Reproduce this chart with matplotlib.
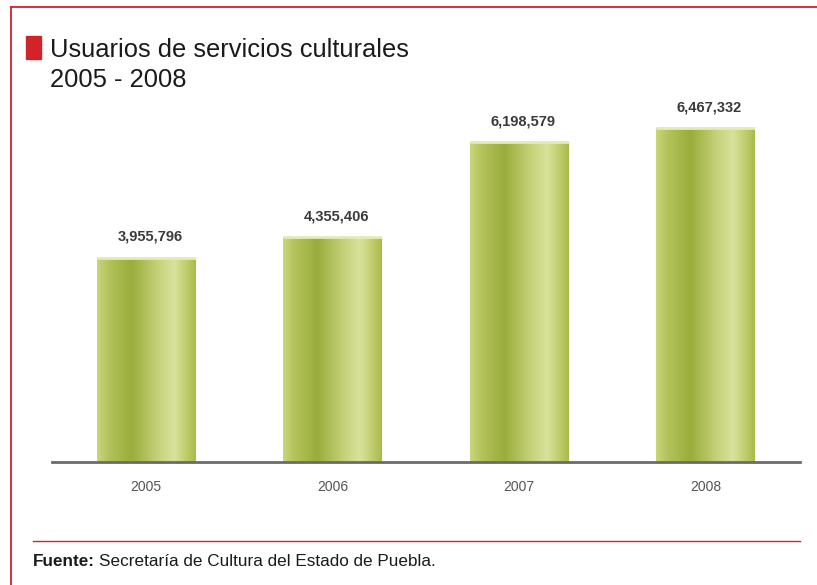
import numpy as np
import matplotlib
matplotlib.use("Agg")
import matplotlib.pyplot as plt
from matplotlib.colors import LinearSegmentedColormap
from matplotlib import font_manager

# data
years = ["2005", "2006", "2007", "2008"]
usuarios = [3955796, 4355406, 6198579, 6467332]

title_1 = "Usuarios de servicios culturales"
title_2 = "2005 - 2008"
fuente_bold = "Fuente:"
fuente_text = "Secretaría de Cultura del Estado de Puebla."

RED = "#d2232a"

names = {f.name for f in font_manager.fontManager.ttflist}
narrow = "Liberation Sans Narrow" if "Liberation Sans Narrow" in names else "Liberation Sans"
plt.rcParams['font.family'] = [narrow, 'DejaVu Sans']

W, H = 817, 585
fig = plt.figure(figsize=(W / 100, H / 100), dpi=100)

# axes placed in pixel coords: left 52, right 800, bottom 462, top 100
ax = fig.add_axes([52 / W, (H - 462) / H, (800 - 52) / W, (462 - 100) / H])
x = np.arange(len(years))

bars = ax.bar(x, usuarios, width=0.53, color="none", edgecolor="none")

# cylinder-ish shading across each bar
cyl = LinearSegmentedColormap.from_list("cyl", [
    (0.0, "#c9d67a"), (0.12, "#b3c25a"), (0.35, "#9aad3c"),
    (0.62, "#c6d27a"), (0.78, "#d8e29c"), (0.92, "#bccb66"), (1.0, "#a9ba4a")])
grad = np.linspace(0, 1, 256).reshape(1, -1)
for b in bars:
    x0, y0 = b.get_x(), b.get_y()
    im = ax.imshow(grad, cmap=cyl, aspect="auto",
                   extent=[x0, x0 + b.get_width(), y0, y0 + b.get_height()],
                   zorder=2)
    im.set_clip_path(b)
    # lighter rim at the top
    ax.plot([x0, x0 + b.get_width()], [b.get_height()] * 2,
            color="#e4ebb4", lw=2, zorder=3, solid_capstyle="butt")

for xi, v in zip(x, usuarios):
    ax.annotate(f"{v:,}", (xi + 0.02, v), xytext=(0, 10), textcoords="offset points",
                ha="center", va="bottom", fontsize=10.5, fontweight="bold",
                color="#3a3a3a")

ax.set_ylim(0, 7.01e6)
ax.set_xlim(-0.505, 3.505)
for s in ["top", "right", "left"]:
    ax.spines[s].set_visible(False)
ax.spines["bottom"].set_color("#6b6b6b")
ax.spines["bottom"].set_linewidth(2)
ax.set_yticks([])
ax.set_xticks(x)
ax.set_xticklabels(years, fontsize=10, color="#555555")
ax.tick_params(axis="x", length=0, pad=13)

# red frame (top and left)
fig.add_artist(plt.Line2D([11 / W, 1], [1 - 7 / H] * 2, color=RED, lw=1.3))
fig.add_artist(plt.Line2D([11 / W] * 2, [0, 1 - 7 / H], color=RED, lw=1.3))
# separator above the source note
fig.add_artist(plt.Line2D([33 / W, 800 / W], [1 - 541 / H] * 2, color=RED, lw=1.0))

# red square and title
fig.add_artist(plt.Rectangle((26 / W, 1 - 59 / H), 15 / W, 23 / H,
                             color=RED, transform=fig.transFigure))
fig.text(50 / W, 1 - 57 / H, title_1, fontsize=18.4, color="#1a1a1a", va="baseline")
fig.text(50 / W, 1 - 87 / H, title_2, fontsize=18.4, color="#1a1a1a", va="baseline")

# source note
t = fig.text(33 / W, 1 - 566 / H, fuente_bold, fontsize=12.3, fontweight="bold",
             color="#1a1a1a", va="baseline")
fig.canvas.draw()
bb = t.get_window_extent()
fig.text((bb.x1 + 4) / W, 1 - 566 / H, fuente_text, fontsize=12.3, color="#1a1a1a",
         va="baseline")

fig.savefig("out.png", dpi=100)
